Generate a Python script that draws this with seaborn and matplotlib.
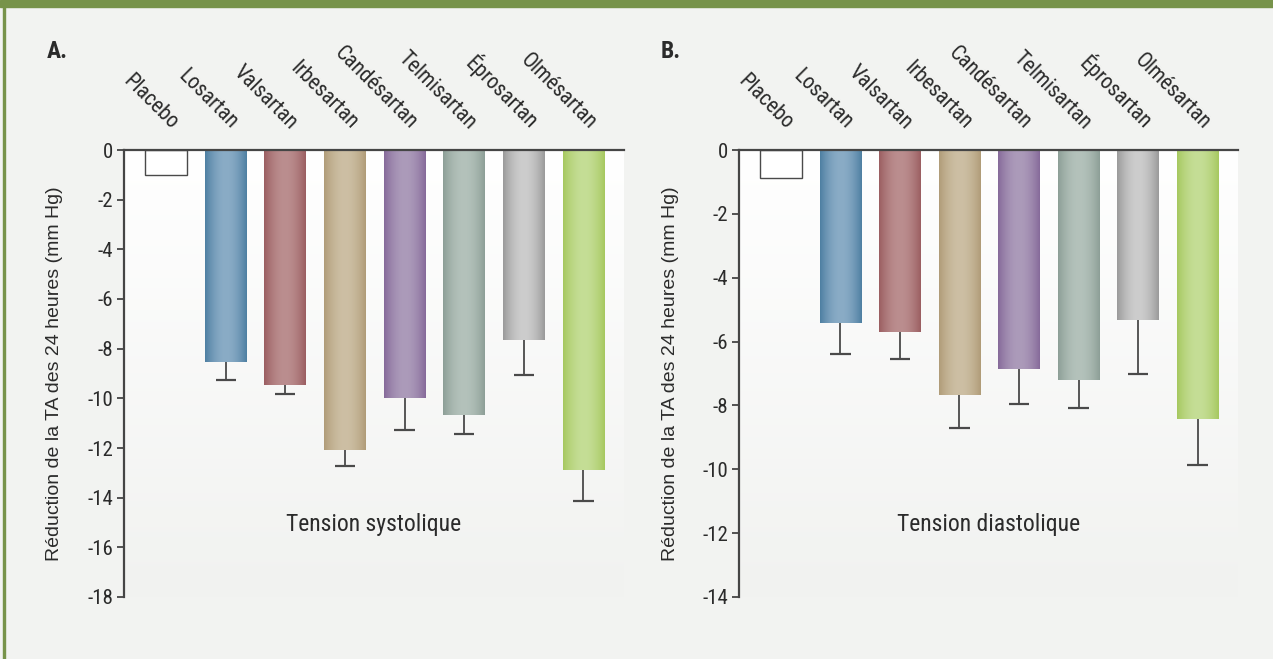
import numpy as np
import pandas as pd
import matplotlib
matplotlib.use("Agg")
import matplotlib.pyplot as plt
import matplotlib.transforms as mtransforms
from matplotlib import font_manager as fm
import seaborn as sns

# ---------------- data ----------------
categories = ["Placebo", "Losartan", "Valsartan", "Irbesartan", "Candésartan",
              "Telmisartan", "Éprosartan", "Olmésartan"]
systolic = [-1.0, -8.52, -9.45, -12.1, -9.97, -10.67, -7.65, -12.89]
systolic_err = [0.0, 0.73, 0.39, 0.63, 1.31, 0.77, 1.41, 1.24]
diastolic = [-0.88, -5.42, -5.69, -7.66, -6.87, -7.19, -5.32, -8.41]
diastolic_err = [0.0, 0.96, 0.87, 1.06, 1.09, 0.88, 1.71, 1.46]
panel_titles = ["Tension systolique", "Tension diastolique"]
panel_letters = ["A.", "B."]
ylabel = "Réduction de la TA des 24 heures (mm Hg)"
yticks_A = list(range(-18, 1, 2))
yticks_B = list(range(-14, 1, 2))

edge_colors = ["#ffffff", "#4e7fa2", "#9b5e61", "#b09c78", "#866a9a",
               "#8d9f97", "#9a9a9a", "#a6c85f"]
center_colors = ["#ffffff", "#8aacc6", "#bb8e8f", "#cdbfa4", "#ac9bba",
                 "#b4c2bb", "#cdcdcd", "#c5de96"]

sns.set_theme(style="white")

def has_font(name):
    try:
        fm.findfont(fm.FontProperties(family=name), fallback_to_default=False)
        return True
    except Exception:
        return False

narrow = [f for f in ["Liberation Sans Narrow", "Roboto Condensed", "Liberation Sans"] if has_font(f)]
narrow = narrow + ["DejaVu Sans"]
regular = [f for f in ["Liberation Sans"] if has_font(f)] + ["DejaVu Sans"]
plt.rcParams["font.family"] = narrow

BG = "#f2f3f1"
TXT = "#2b2b2b"
SPINE = "#454545"

fig = plt.figure(figsize=(12.73, 6.59), dpi=100, facecolor=BG)
W, H = 1273, 659

# decorative frame: green top band + left line
fig.patches.append(plt.Rectangle((0, 1 - 7 / H), 1, 7 / H, transform=fig.transFigure,
                                 color="#77934a", zorder=0))
fig.patches.append(plt.Rectangle((3 / W, 0), 1.6 / W, 1, transform=fig.transFigure,
                                 color="#77934a", zorder=0))


def hex2rgb(h):
    h = h.lstrip("#")
    return np.array([int(h[i:i + 2], 16) / 255 for i in (0, 2, 4)])


def draw_panel(ax, vals, errs, ymin, yticks, title, letter, letter_x):
    df = pd.DataFrame({"cat": categories, "val": vals})
    sns.barplot(data=df, x="cat", y="val", hue="cat", palette=edge_colors,
                width=0.7, ax=ax, legend=False, saturation=1,
                edgecolor="none", linewidth=0, zorder=2)
    ax.set_facecolor("none")

    # plot-area vertical gradient background
    top = np.array([1.0, 1.0, 1.0])
    bot = hex2rgb("#f1f2f0")
    t = np.linspace(0, 1, 200)[:, None]
    bg = (top * (1 - t) + bot * t)[:, None, :]
    ax.imshow(bg, extent=[0, 1, 0, 1], transform=ax.transAxes, aspect="auto",
              zorder=0, interpolation="bicubic")

    # cylinder-like horizontal gradient on each bar
    for i, patch in enumerate(ax.patches):
        x0, y0 = patch.get_x(), patch.get_y()
        w, h = patch.get_width(), patch.get_height()
        if i == 0:
            patch.set_facecolor("white")
            patch.set_edgecolor("#4a4a4a")
            patch.set_linewidth(1.0)
            continue
        e = hex2rgb(edge_colors[i])
        c = hex2rgb(center_colors[i])
        s = np.linspace(0, 1, 64)
        wgt = np.sin(np.pi * s) ** 0.9
        grad = (e[None, :] * (1 - wgt[:, None]) + c[None, :] * wgt[:, None])[None, :, :]
        im = ax.imshow(grad, extent=[x0, x0 + w, y0 + h, y0], aspect="auto",
                       zorder=2.5, interpolation="bilinear")
        im.set_clip_path(patch)

    # error bars (downward only)
    idx = np.arange(len(categories))
    v = np.array(vals)
    e = np.array(errs)
    m = e > 0
    ax.vlines(idx[m], v[m], v[m] - e[m], color="#4a4a4a", lw=1.3, zorder=3)
    ax.hlines(v[m] - e[m], idx[m] - 0.17, idx[m] + 0.17, color="#4a4a4a", lw=1.6, zorder=3)

    ax.set_xlim(-0.705, 7.68)
    ax.set_ylim(ymin, 0)
    ax.set_yticks(yticks)
    ax.set_yticklabels([str(y) for y in yticks])

    for s in ["bottom", "right"]:
        ax.spines[s].set_visible(False)
    for s in ["top", "left"]:
        ax.spines[s].set_visible(True)
        ax.spines[s].set_color(SPINE)
        ax.spines[s].set_linewidth(1.6)
        ax.spines[s].set_zorder(4)

    ax.tick_params(axis="y", direction="out", length=5, width=1.3, color=SPINE,
                   labelsize=15, labelcolor=TXT, pad=3, left=True)
    ax.xaxis.set_ticks_position("top")
    ax.xaxis.set_label_position("top")
    ax.set_xticks(idx)
    ax.set_xticklabels(categories)
    ax.tick_params(axis="x", length=0, pad=14.4, labelsize=15.5, labelcolor=TXT,
                   top=True, bottom=False, labeltop=True, labelbottom=False)
    offset = mtransforms.ScaledTranslation(5 / 100, 0, fig.dpi_scale_trans)
    for lab in ax.get_xticklabels():
        lab.set_rotation(-45)
        lab.set_ha("right")
        lab.set_va("baseline")
        lab.set_rotation_mode("anchor")
        lab.set_transform(lab.get_transform() + offset)

    ax.set_xlabel("")
    ax.set_ylabel(ylabel, fontsize=14, color=TXT, family=regular)
    ax.yaxis.set_label_coords(-0.121, 0.5)
    ax.grid(False)

    ax.text(0.5, 0.163, title, transform=ax.transAxes, ha="center", va="center",
            fontsize=17, color=TXT)
    fig.text(letter_x / W, 1 - 51 / H, letter, ha="center", va="center",
             fontsize=17, fontweight="bold", color=TXT)


axA = fig.add_axes([124 / W, 62 / H, 500 / W, 447 / H])
axB = fig.add_axes([739 / W, 62 / H, 499 / W, 447 / H])
draw_panel(axA, systolic, systolic_err, -18, yticks_A, panel_titles[0], panel_letters[0], 57)
draw_panel(axB, diastolic, diastolic_err, -14, yticks_B, panel_titles[1], panel_letters[1], 671)

fig.savefig("out.png", dpi=100, facecolor=BG)
